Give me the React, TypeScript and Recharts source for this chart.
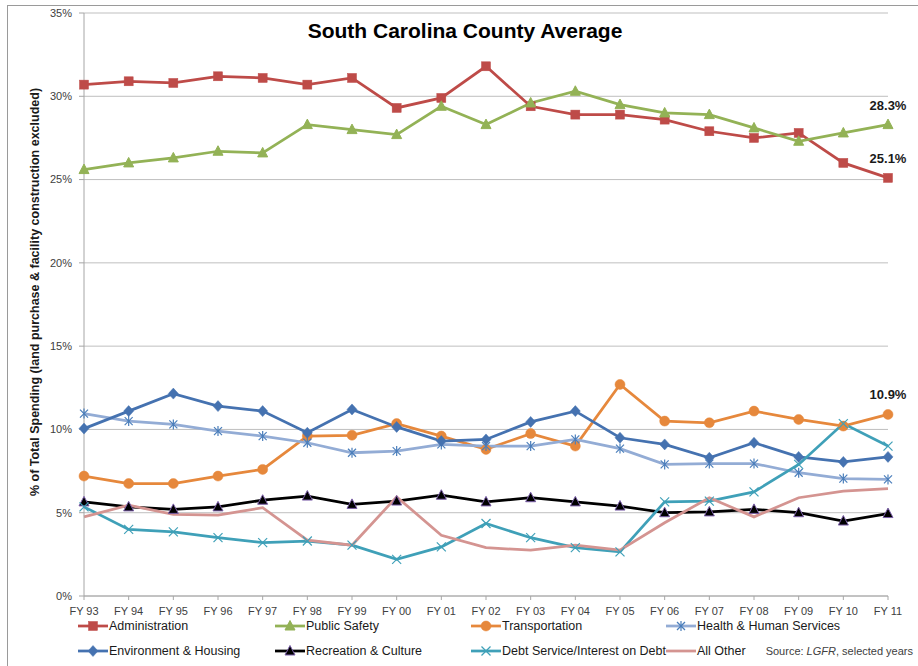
import React from "react";
import { LineChart, Line, XAxis, YAxis, CartesianGrid } from "recharts";

// fiscal years on the x axis
const years = [
  "FY 93", "FY 94", "FY 95", "FY 96", "FY 97", "FY 98", "FY 99", "FY 00", "FY 01", "FY 02",
  "FY 03", "FY 04", "FY 05", "FY 06", "FY 07", "FY 08", "FY 09", "FY 10", "FY 11",
];

// % of total spending
const administration = [30.7, 30.9, 30.8, 31.2, 31.1, 30.7, 31.1, 29.3, 29.9, 31.8, 29.4, 28.9, 28.9, 28.6, 27.9, 27.5, 27.8, 26.0, 25.1];
const publicSafety = [25.6, 26.0, 26.3, 26.7, 26.6, 28.3, 28.0, 27.7, 29.4, 28.3, 29.6, 30.3, 29.5, 29.0, 28.9, 28.1, 27.3, 27.8, 28.3];
const transportation = [7.2, 6.75, 6.75, 7.2, 7.6, 9.6, 9.65, 10.35, 9.6, 8.8, 9.75, 9.0, 12.7, 10.5, 10.4, 11.1, 10.6, 10.2, 10.9];
const healthHuman = [10.95, 10.5, 10.3, 9.9, 9.6, 9.2, 8.6, 8.7, 9.1, 9.0, 9.0, 9.4, 8.85, 7.9, 7.95, 7.95, 7.4, 7.05, 7.0];
const environmentHousing = [10.05, 11.1, 12.15, 11.4, 11.1, 9.8, 11.2, 10.15, 9.3, 9.4, 10.45, 11.1, 9.5, 9.1, 8.3, 9.2, 8.35, 8.05, 8.35];
const recreationCulture = [5.65, 5.35, 5.2, 5.35, 5.75, 6.0, 5.5, 5.7, 6.05, 5.65, 5.9, 5.65, 5.4, 5.0, 5.05, 5.2, 5.0, 4.5, 4.95];
const debtService = [5.35, 4.0, 3.85, 3.5, 3.2, 3.3, 3.05, 2.2, 2.95, 4.35, 3.5, 2.9, 2.65, 5.65, 5.7, 6.25, 7.9, 10.35, 9.0];
const allOther = [4.75, 5.45, 4.9, 4.85, 5.3, 3.35, 3.05, 5.95, 3.65, 2.9, 2.75, 3.05, 2.75, 4.4, 5.9, 4.75, 5.9, 6.3, 6.45];

const yTicks = [0, 5, 10, 15, 20, 25, 30, 35];

type Shape = "square" | "triangle" | "circle" | "asterisk" | "diamond" | "cross" | "none";

const series: {
  key: string;
  name: string;
  values: number[];
  color: string;
  markerFill: string;
  markerStroke: string;
  shape: Shape;
  endLabel: boolean;
}[] = [
  { key: "admin", name: "Administration", values: administration, color: "#be4b48", markerFill: "#be4b48", markerStroke: "#be4b48", shape: "square", endLabel: true },
  { key: "safety", name: "Public Safety", values: publicSafety, color: "#93b256", markerFill: "#93b256", markerStroke: "#93b256", shape: "triangle", endLabel: true },
  { key: "transport", name: "Transportation", values: transportation, color: "#e6883c", markerFill: "#e6883c", markerStroke: "#e6883c", shape: "circle", endLabel: true },
  { key: "health", name: "Health & Human Services", values: healthHuman, color: "#93acd5", markerFill: "#4a7ebb", markerStroke: "#4a7ebb", shape: "asterisk", endLabel: false },
  { key: "env", name: "Environment & Housing", values: environmentHousing, color: "#4572b0", markerFill: "#4572b0", markerStroke: "#4572b0", shape: "diamond", endLabel: false },
  { key: "rec", name: "Recreation & Culture", values: recreationCulture, color: "#000000", markerFill: "#000000", markerStroke: "#7a5ea8", shape: "triangle", endLabel: false },
  { key: "debt", name: "Debt Service/Interest on Debt", values: debtService, color: "#3fa0b8", markerFill: "#3fa0b8", markerStroke: "#3fa0b8", shape: "cross", endLabel: false },
  { key: "other", name: "All Other", values: allOther, color: "#d49491", markerFill: "#d49491", markerStroke: "#d49491", shape: "none", endLabel: false },
];

const data = years.map((year, i) => {
  const row: Record<string, string | number> = { year };
  series.forEach((s) => {
    row[s.key] = s.values[i];
  });
  return row;
});

function Marker({ shape, cx, cy, fill, stroke }: { shape: Shape; cx: number; cy: number; fill: string; stroke: string }) {
  switch (shape) {
    case "square":
      return <rect x={cx - 4.5} y={cy - 4.5} width={9} height={9} fill={fill} stroke={stroke} strokeWidth={0.5} />;
    case "triangle":
      return <polygon points={`${cx},${cy - 5.5} ${cx + 5},${cy + 4} ${cx - 5},${cy + 4}`} fill={fill} stroke={stroke} strokeWidth={1} />;
    case "circle":
      return <circle cx={cx} cy={cy} r={5} fill={fill} stroke={stroke} strokeWidth={0.5} />;
    case "diamond":
      return <polygon points={`${cx},${cy - 5.5} ${cx + 5},${cy} ${cx},${cy + 5.5} ${cx - 5},${cy}`} fill={fill} stroke={stroke} strokeWidth={0.5} />;
    case "asterisk":
      return (
        <g stroke={stroke} strokeWidth={1.2}>
          <line x1={cx - 4} y1={cy - 4} x2={cx + 4} y2={cy + 4} />
          <line x1={cx - 4} y1={cy + 4} x2={cx + 4} y2={cy - 4} />
          <line x1={cx} y1={cy - 5} x2={cx} y2={cy + 5} />
        </g>
      );
    case "cross":
      return (
        <g stroke={stroke} strokeWidth={1.2}>
          <line x1={cx - 4.5} y1={cy - 4.5} x2={cx + 4.5} y2={cy + 4.5} />
          <line x1={cx - 4.5} y1={cy + 4.5} x2={cx + 4.5} y2={cy - 4.5} />
        </g>
      );
    default:
      return <g />;
  }
}

const legendCols = [78, 275, 471, 666];
const legendRows = [626, 651];

export default function App() {
  const tickColor = "#404040";
  const axisColor = "#a6a6a6";
  const font = "'Liberation Sans', Arial, sans-serif";

  return (
    <div style={{ position: "absolute", left: 0, top: 0, width: 918, height: 666, overflow: "hidden", background: "#fff", fontFamily: font }}>
      <div style={{ position: "absolute", left: 7, top: 5, width: 940, height: 700, border: "1px solid #9a9a9a" }} />
      <LineChart width={918} height={666} data={data} margin={{ top: 13, right: 30, bottom: 40, left: 34 }}>
        <CartesianGrid vertical={false} stroke="#bfbfbf" />
        <XAxis
          dataKey="year"
          stroke={axisColor}
          tick={{ fill: tickColor, fontSize: 11, fontFamily: font }}
          tickSize={4}
          tickMargin={7}
          height={30}
          interval={0}
        />
        <YAxis
          domain={[0, 35]}
          ticks={yTicks}
          stroke={axisColor}
          tick={{ fill: tickColor, fontSize: 11, fontFamily: font }}
          tickFormatter={(v) => `${v}%`}
          tickSize={5}
          tickMargin={7}
          width={50}
        />
        {series.map((s) => (
          <Line
            key={s.key}
            dataKey={s.key}
            name={s.name}
            stroke={s.color}
            strokeWidth={2.75}
            isAnimationActive={false}
            activeDot={false}
            dot={(p: any) => (
              <Marker key={`${s.key}-${p.index}`} shape={s.shape} cx={p.cx} cy={p.cy} fill={s.markerFill} stroke={s.markerStroke} />
            )}
            label={(p: any) =>
              s.endLabel && p.index === years.length - 1 ? (
                <text key={`${s.key}-lbl`} x={p.x} y={p.y - 15} textAnchor="middle" fontSize={13} fontWeight="bold" fill="#1a1a1a" fontFamily={font}>
                  {`${Number(p.value).toFixed(1)}%`}
                </text>
              ) : (
                <g key={`${s.key}-lbl-${p.index}`} />
              )
            }
          />
        ))}
      </LineChart>

      <div style={{ position: "absolute", left: 0, width: 918, top: 19, textAlign: "center", paddingLeft: 6, fontSize: 21, fontWeight: "bold", color: "#000" }}>
        South Carolina County Average
      </div>

      <div
        style={{
          position: "absolute",
          left: 35,
          top: 292,
          transform: "translate(-50%, -50%) rotate(-90deg)",
          whiteSpace: "nowrap",
          fontSize: 12.5,
          fontWeight: "bold",
          color: "#1a1a1a",
        }}
      >
        % of Total Spending (land purchase &amp; facility construction excluded)
      </div>

      {series.map((s, i) => (
        <div
          key={s.key}
          style={{
            position: "absolute",
            left: legendCols[i % 4],
            top: legendRows[Math.floor(i / 4)] - 8,
            height: 16,
            display: "flex",
            alignItems: "center",
            fontSize: 12.5,
            color: "#1a1a1a",
            whiteSpace: "nowrap",
          }}
        >
          <svg width={30} height={14}>
            <line x1={0} y1={7} x2={30} y2={7} stroke={s.color} strokeWidth={2.75} />
            <Marker shape={s.shape} cx={15} cy={7} fill={s.markerFill} stroke={s.markerStroke} />
          </svg>
          <span style={{ marginLeft: 1 }}>{s.name}</span>
        </div>
      ))}

      <div style={{ position: "absolute", right: 5, top: 645, fontSize: 11, color: "#404040", whiteSpace: "nowrap" }}>
        Source: <i>LGFR</i>, selected years
      </div>
    </div>
  );
}
